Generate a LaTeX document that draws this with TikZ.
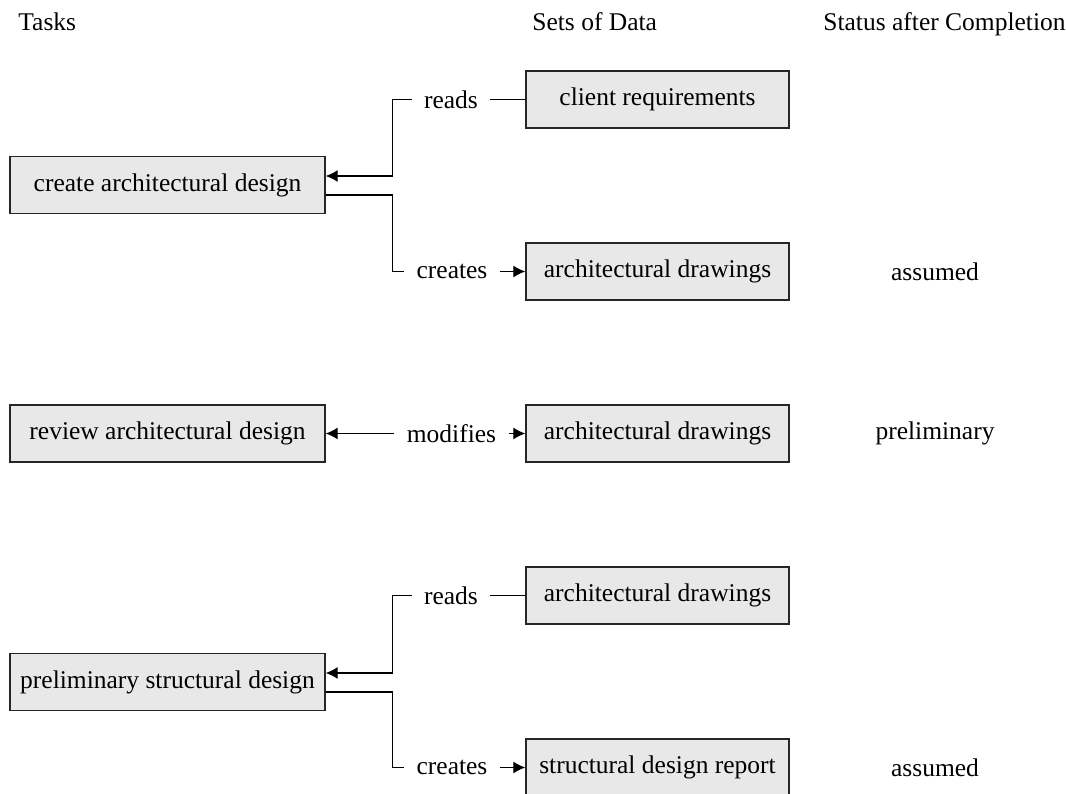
\documentclass[tikz,border=0pt]{standalone}
\usepackage{fontspec}
\setmainfont{Liberation Serif}
\usepackage{tikz}
\usetikzlibrary{arrows.meta, positioning}

\tikzset{
  taskbox/.style={draw=black!85, line width=0.7pt, fill=black!9, minimum width=157.5pt, minimum height=28.5pt, inner sep=0pt},
  databox/.style={draw=black!85, line width=0.7pt, fill=black!9, minimum width=131.5pt, minimum height=28.5pt, inner sep=0pt},
  verb/.style={inner xsep=6pt, inner ysep=0pt},
  status/.style={inner sep=0pt},
  heading/.style={inner sep=0pt, anchor=base west},
  flow/.style={line width=0.6pt, -{Latex[length=6pt,width=6pt]}},
  plain/.style={line width=0.6pt}
}

\begin{document}
\fontsize{12.75}{15}\selectfont
\begin{tikzpicture}[x=0.5pt, y=-0.5pt]
\useasboundingbox (0,0) rectangle (1066,793);

% column headings
\node[heading] (hTasks) at (18,30) {Tasks};
\node[heading] (hData) at (532,30) {Sets of Data};
\node[heading] (hStatus) at (823,30) {Status after Completion};

% tasks
\node[taskbox] (cad) at (167.5,185) {create architectural design};
\node[taskbox] (rad) at (167.5,433.5) {review architectural design};
\node[taskbox] (psd) at (167.5,682) {preliminary structural design};

% sets of data
\node[databox] (clientreq) at (657.5,99.5) {client requirements};
\node[databox] (archdrawA) at (657.5,271.5) {architectural drawings};
\node[databox] (archdrawB) at (657.5,433.5) {architectural drawings};
\node[databox] (archdrawC) at (657.5,595.5) {architectural drawings};
\node[databox] (strucrep) at (657.5,767.5) {structural design report};

% status
\node[status] (stA) at (935,271.5) {assumed};
\node[status] (stB) at (935,433.5) {preliminary};
\node[status] (stC) at (935,767.5) {assumed};

% verbs
\node[verb] (readsA) at (451,99.5) {reads};
\node[verb] (createsA) at (452,271.5) {creates};
\node[verb] (modifies) at (451.5,433.5) {modifies};
\node[verb] (readsB) at (451,595.5) {reads};
\node[verb] (createsB) at (452,767.5) {creates};

% bend points
\coordinate (cadIn) at ([yshift=4.5pt]cad.east);
\coordinate (cadOut) at ([yshift=-5pt]cad.east);
\coordinate (cadBend) at ([xshift=33.5pt]cad.east);
\coordinate (psdIn) at ([yshift=4.5pt]psd.east);
\coordinate (psdOut) at ([yshift=-5pt]psd.east);
\coordinate (psdBend) at ([xshift=33.5pt]psd.east);

% create architectural design
\draw[plain] (clientreq.west) -- (readsA.east);
\draw[flow] (readsA.west) -| (cadBend |- cadIn) -- (cadIn);
\draw[plain] (cadOut) -| (cadBend |- createsA.west) -- (createsA.west);
\draw[flow] (createsA.east) -- (archdrawA.west);

% review architectural design
\draw[flow] (modifies.west) -- (rad.east);
\draw[flow] (modifies.east) -- (archdrawB.west);

% preliminary structural design
\draw[plain] (archdrawC.west) -- (readsB.east);
\draw[flow] (readsB.west) -| (psdBend |- psdIn) -- (psdIn);
\draw[plain] (psdOut) -| (psdBend |- createsB.west) -- (createsB.west);
\draw[flow] (createsB.east) -- (strucrep.west);
\end{tikzpicture}
\end{document}
